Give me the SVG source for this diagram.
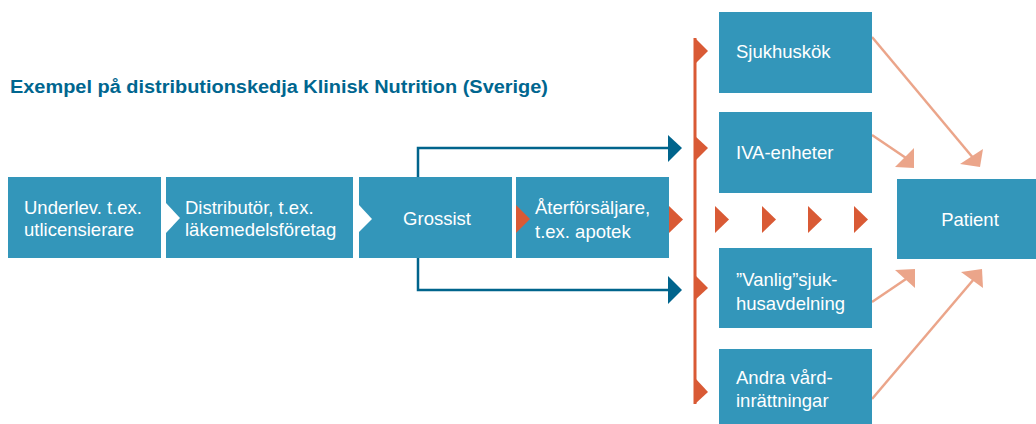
<svg xmlns="http://www.w3.org/2000/svg" width="1036" height="424" viewBox="0 0 1036 424">
<style>
.box{fill:#3396BA}
.t{fill:#FFFFFF;font-family:"Liberation Sans",Arial,sans-serif;font-size:18.5px}
.title{fill:#00668F;font-family:"Liberation Sans",Arial,sans-serif;font-size:17.5px;font-weight:bold}
.blue{fill:none;stroke:#00648C;stroke-width:2.5}
.bluehead{fill:#00648C}
.org{fill:#D95A35}
.orgline{fill:none;stroke:#D95A35;stroke-width:3}
.sal{fill:none;stroke:#EBA58A;stroke-width:2.5}
.salhead{fill:#EBA58A}
</style>
<rect width="1036" height="424" fill="#FFFFFF"/>
<text class="title" x="10" y="93" textLength="538" lengthAdjust="spacingAndGlyphs">Exempel på distributionskedja Klinisk Nutrition (Sverige)</text>

<g id="connectors">
<polyline class="blue" points="418,177 418,148 670,148"/>
<polygon class="bluehead" points="668,135 682,148 668,162"/>
<polyline class="blue" points="418,258 418,290 670,290"/>
<polygon class="bluehead" points="668,276 682,290 668,304"/>
<line class="orgline" x1="695" y1="38" x2="695" y2="404"/>
<polygon class="org" points="695,38 708,51 695,64"/>
<polygon class="org" points="695,136 708,148 695,161"/>
<polygon class="org" points="695,275 708,288 695,300"/>
<polygon class="org" points="695,378 708,392 695,404"/>
<polygon class="org" points="669,206 683,219.5 669,233"/>
<polygon class="org" points="715,206 729,219.5 715,233"/>
<polygon class="org" points="762,206 776,219.5 762,233"/>
<polygon class="org" points="808,206 822,219.5 808,233"/>
<polygon class="org" points="854,206 868,219.5 854,233"/>
<line class="sal" x1="872" y1="37" x2="974" y2="159"/>
<polygon class="salhead" points="983,149 980,167 960,164"/>
<line class="sal" x1="872" y1="135" x2="906" y2="158"/>
<polygon class="salhead" points="914,148 914,168 895,167"/>
<line class="sal" x1="872" y1="302" x2="906" y2="279"/>
<polygon class="salhead" points="895,270 915,269 915,288"/>
<line class="sal" x1="872" y1="399" x2="974" y2="279"/>
<polygon class="salhead" points="961,272 982,269 983,288"/>
</g>

<g id="n-underlev">
<rect class="box" x="8" y="177" width="153" height="81"/>
<text class="t" x="24" y="214">Underlev. t.ex.</text>
<text class="t" x="24" y="236">utlicensierare</text>
</g>
<g id="n-distributor">
<rect class="box" x="166" y="177" width="187" height="81"/>
<polygon fill="#FFFFFF" points="166,203 180,218 166,233"/>
<text class="t" x="185" y="214">Distributör, t.ex.</text>
<text class="t" x="185" y="236">läkemedelsföretag</text>
</g>
<g id="n-grossist">
<rect class="box" x="359" y="177" width="153" height="81"/>
<polygon fill="#FFFFFF" points="359,205 372,219 359,232"/>
<text class="t" x="437" y="225" text-anchor="middle">Grossist</text>
</g>
<g id="n-aterforsaljare">
<rect class="box" x="516" y="177" width="153" height="81"/>
<polygon class="org" points="516,205 530,219 516,233"/>
<text class="t" x="535" y="214">Återförsäljare,</text>
<text class="t" x="535" y="238">t.ex. apotek</text>
</g>
<g id="n-sjukhuskok">
<rect class="box" x="719" y="12" width="153" height="81"/>
<text class="t" x="736" y="58">Sjukhuskök</text>
</g>
<g id="n-iva">
<rect class="box" x="719" y="112" width="153" height="81"/>
<text class="t" x="736" y="159">IVA-enheter</text>
</g>
<g id="n-vanlig">
<rect class="box" x="719" y="248" width="153" height="80"/>
<text class="t" x="736" y="286">”Vanlig”sjuk-</text>
<text class="t" x="736" y="310">husavdelning</text>
</g>
<g id="n-andra">
<rect class="box" x="719" y="349" width="153" height="81"/>
<text class="t" x="736" y="384">Andra vård-</text>
<text class="t" x="736" y="407">inrättningar</text>
</g>
<g id="n-patient">
<rect class="box" x="897" y="179" width="139" height="80"/>
<text class="t" x="970" y="226" text-anchor="middle">Patient</text>
</g>
</svg>
